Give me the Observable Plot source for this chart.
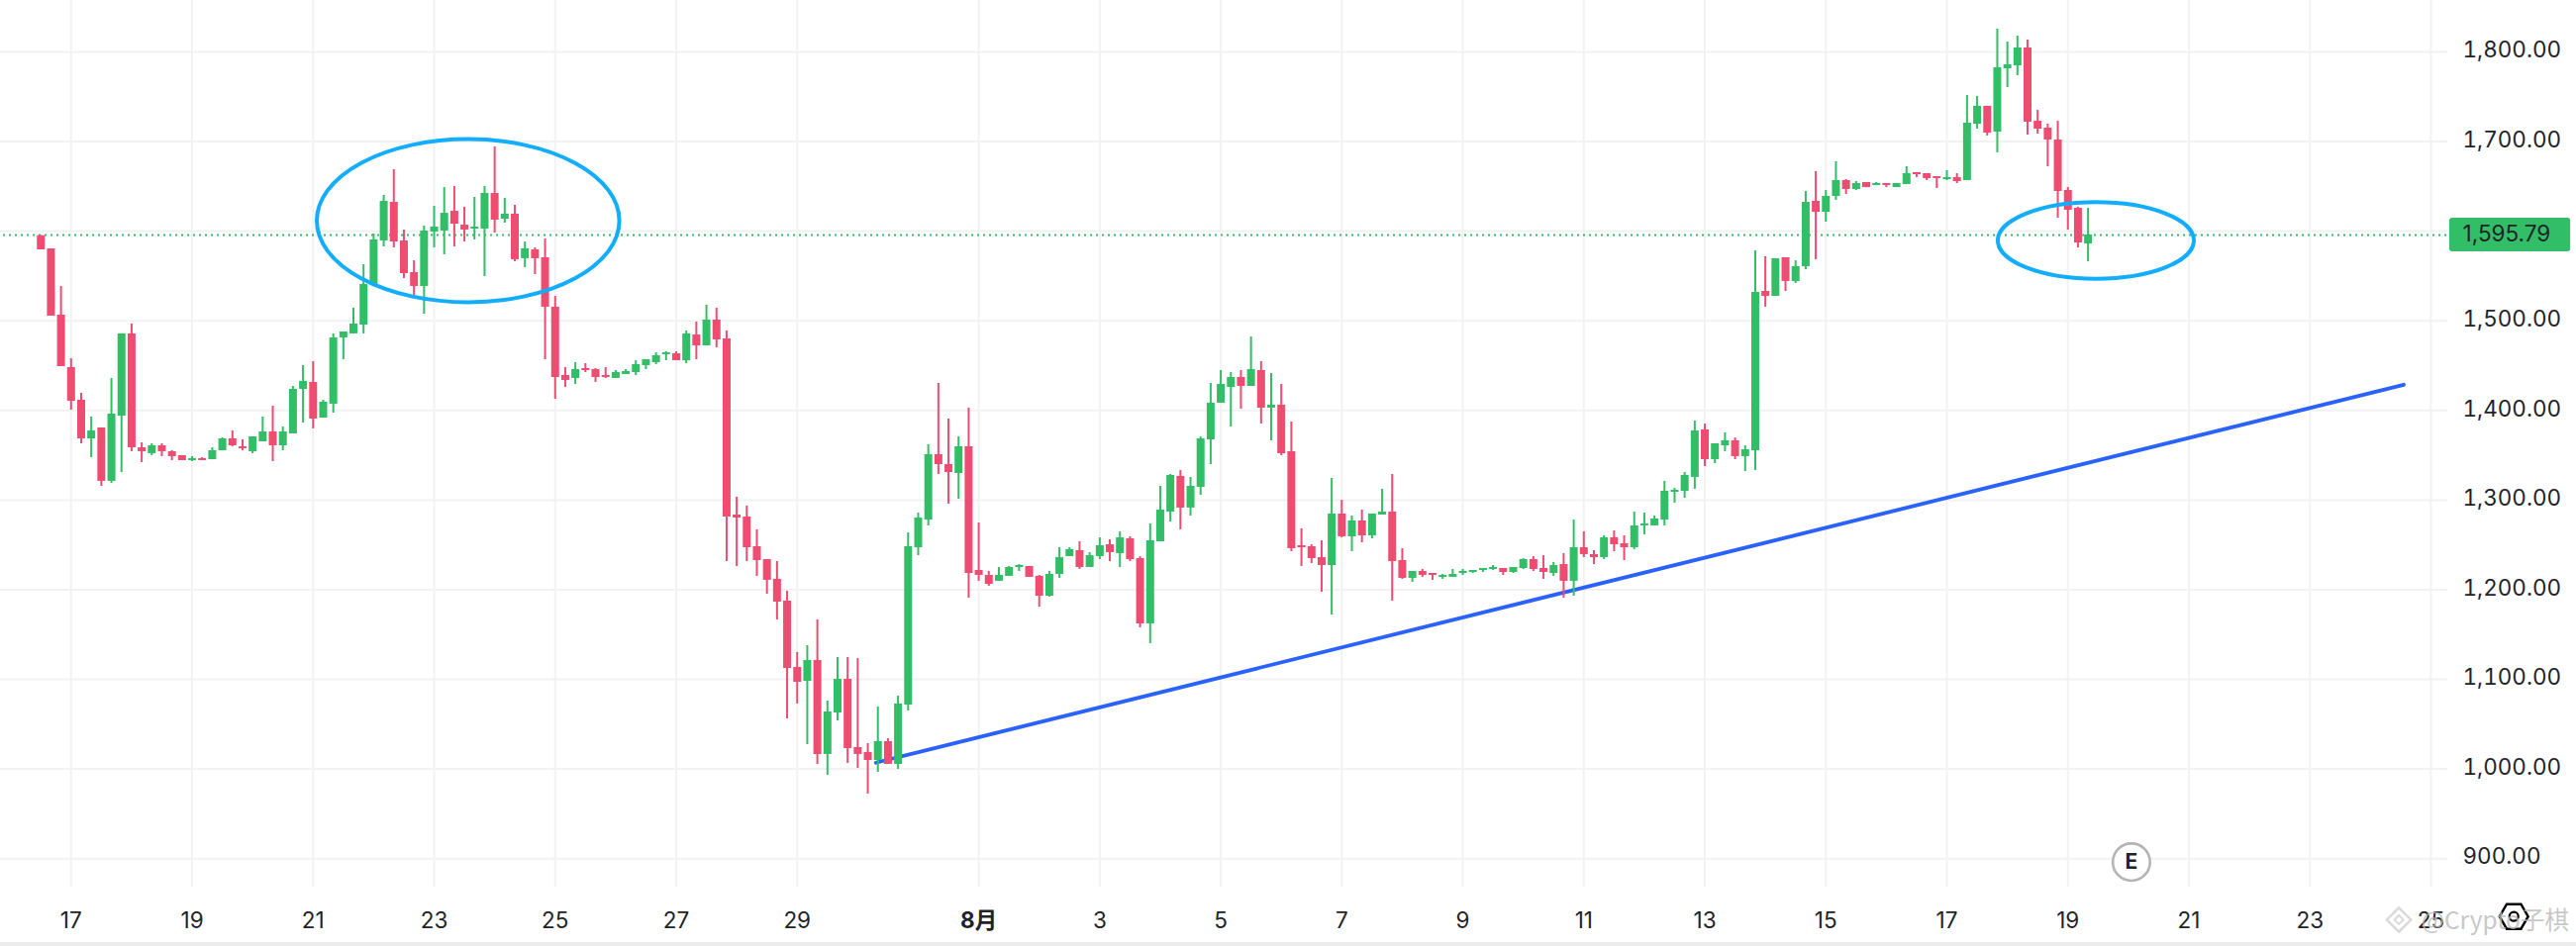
<!DOCTYPE html>
<html>
<head>
<meta charset="utf-8">
<script src="https://cdn.jsdelivr.net/npm/d3@7"></script>
<script src="https://cdn.jsdelivr.net/npm/@observablehq/plot@0.6"></script>
<style>
html,body{margin:0;padding:0;background:#fff;overflow:hidden}
svg{display:block}
#band{height:4px;background:#ececec}
</style>
</head>
<body>
<div id="chart"></div>
<div id="band"></div>
<script>
// 4-hour candles; the first one opens 12 hours into 16 July (index -3 from 17 July 00:00)
const open = [1595,1580.3,1506.3,1447.8,1411.4,1368.3,1380.5,1320.9,1393.7,1485.4,1358.4,1351.8,1360.6,1354,1349.6,1344,1346.2,1345.1,1355.1,1368.3,1359.5,1354,1365,1376.1,1360.6,1373.8,1423.5,1431.3,1391.5,1407,1481,1485.4,1495.3,1539.4,1589.1,1632.2,1589.1,1553.8,1538.3,1599.1,1600.2,1622.2,1606.8,1602.4,1602.4,1642.1,1613.4,1619,1569.3,1579.2,1570.4,1515.2,1439,1435.7,1446.7,1445.6,1439,1435.7,1440.1,1442.3,1450,1453.3,1462.2,1463.3,1455.5,1484.2,1472.1,1500.8,1479.8,1283.3,1281.1,1248,1233.6,1211.6,1187.3,1113.3,1097.8,1121,1016.2,1062.5,1100,1023.9,1018.4,1009.5,1030.5,1005.1,1071.4,1246.9,1277.8,1350.7,1339.6,1329.7,1359.5,1221.5,1216,1209.4,1214.9,1224.8,1225.9,1214.9,1192.8,1217.1,1236.9,1243.6,1224.8,1236.9,1250.2,1240.3,1256.8,1234.7,1161.9,1253.5,1286.6,1326.4,1291.1,1314.2,1367.2,1408.1,1425.7,1436.8,1426.8,1444.5,1402.6,1405.9,1354,1249.1,1248,1235.8,1227,1284.4,1259,1276.7,1260.1,1283.3,1286.6,1232.5,1212.7,1220.4,1218.2,1213.8,1213.8,1218.2,1219.3,1221.5,1222.6,1223.7,1219.3,1223.7,1233.6,1223.7,1218.2,1228.1,1209.4,1246.9,1239.2,1235.8,1257.9,1251.3,1246.9,1271.2,1271.2,1277.8,1308.7,1309.8,1325.3,1378.3,1345.1,1360.6,1366.1,1348.5,1355.1,1532.8,1527.3,1570.4,1543.9,1560.4,1633.3,1621.1,1638.8,1656.5,1646.5,1654.3,1651,1653.2,1648.7,1652.1,1665.3,1664.2,1660.9,1657.6,1659.8,1656.5,1719.4,1739.3,1710.6,1781.2,1784.5,1804.4,1722.7,1715,1701.7,1645.4,1625.6,1585.8];
const high = [1595,1580.3,1538.3,1457.8,1419.1,1392.6,1380.5,1435.7,1485.4,1496.4,1363.9,1362.8,1362.8,1355.1,1349.6,1348.5,1347.4,1358.4,1369.4,1377.2,1367.2,1370.5,1392.6,1404.8,1381.6,1426.8,1450,1454.4,1411.4,1485.4,1487.6,1514.1,1562.6,1596.9,1639.9,1668.6,1601.3,1567,1605.7,1627.8,1648.7,1649.8,1626.7,1637.7,1649.8,1694,1636.6,1628.9,1588,1581.4,1591.3,1527.3,1447.8,1453.3,1452.2,1446.7,1447.8,1444.5,1445.6,1455.5,1456.6,1464.4,1465.5,1465.5,1488.7,1498.6,1517.4,1514.1,1488.7,1303.2,1293.3,1266.8,1233.6,1231.4,1198.3,1129.9,1137.6,1166.3,1075.8,1124.3,1124.3,1123.2,1028.3,1069.1,1033.8,1081.3,1263.4,1285.5,1361.7,1430.2,1390.4,1370.5,1402.6,1274.5,1220.4,1224.8,1225.9,1228.1,1225.9,1216,1220.4,1246.9,1246.9,1253.5,1241.4,1257.9,1255.7,1264.6,1259,1236.9,1273.4,1315.3,1328.6,1333,1325.3,1370.5,1430.2,1444.5,1442.3,1444.5,1482,1454.4,1441.2,1429,1387.1,1267.9,1250.2,1254.6,1324.2,1299.9,1282.2,1288.8,1284.4,1312,1328.6,1245.8,1220.4,1222.6,1218.2,1217.1,1222.6,1222.6,1221.5,1223.7,1227,1223.7,1224.8,1234.7,1236.9,1238,1230.3,1240.3,1277.8,1264.6,1243.6,1260.1,1265.7,1260.1,1286.6,1285.5,1282.2,1320.9,1313.1,1330.8,1388.2,1384.9,1362.8,1375,1369.4,1360.6,1578.1,1571.5,1569.3,1570.4,1567,1644.3,1666.4,1645.4,1677.4,1657.6,1655.4,1654.3,1654.3,1653.2,1653.2,1671.9,1665.3,1664.2,1660.9,1667.5,1664.2,1751.4,1750.3,1739.3,1825.4,1811,1817.7,1813.2,1734.9,1719.4,1722.7,1648.7,1626.7,1625.6];
const low = [1579.2,1505.2,1448.9,1400.3,1362.8,1347.4,1315.3,1318.7,1330.8,1354,1341.8,1349.6,1348.5,1344,1344,1342.9,1344,1345.1,1355.1,1359.5,1355.1,1351.8,1365,1342.9,1355.1,1373.8,1386,1379.4,1391.5,1397,1456.6,1485.4,1485.4,1539.4,1582.5,1581.4,1547.2,1526.2,1507.4,1581.4,1573.7,1582.5,1588,1590.2,1549.4,1598,1609,1566,1559.3,1551.6,1456.6,1412.5,1425.7,1429,1442.3,1431.3,1435.7,1435.7,1440.1,1439,1445.6,1451.1,1455.5,1455.5,1452.2,1456.6,1472.1,1469.9,1231.4,1225.9,1231.4,1214.9,1195,1166.3,1055.9,1072.5,1027.2,1005.1,993,1053.7,1006.2,1000.7,972,996.3,1005.1,999.6,1064.7,1238,1271.2,1328.6,1295.5,1301,1190.6,1209.4,1203.8,1209.4,1214.9,1220.4,1213.8,1180.6,1191.7,1212.7,1236.9,1222.6,1224.8,1233.6,1231.4,1224.8,1231.4,1157.5,1139.8,1253.5,1275.6,1266.8,1282.2,1305.4,1339.6,1408.1,1381.6,1401.4,1426.8,1384.9,1366.1,1349.6,1242.5,1225.9,1229.2,1197.2,1171.8,1257.9,1242.5,1252.4,1256.8,1283.3,1187.3,1211.6,1208.3,1213.8,1210.5,1211.6,1213.8,1216,1218.2,1219.3,1221.5,1216,1218.2,1222.6,1220.4,1211.6,1214.9,1190.6,1192.8,1235.8,1228.1,1233.6,1242.5,1232.5,1244.7,1261.3,1271.2,1271.2,1296.6,1302.1,1312,1337.4,1340.7,1354,1345.1,1331.9,1333,1515.2,1527.3,1532.8,1541.7,1557.1,1568.2,1610.1,1634.4,1641,1645.4,1648.7,1651,1648.7,1648.7,1652.1,1659.8,1656.5,1647.6,1656.5,1653.2,1656.5,1713.9,1706.2,1687.4,1760.2,1773.5,1707.3,1708.4,1671.9,1614.5,1601.3,1581.4,1565.9];
const close = [1579.2,1505.2,1448.9,1410.3,1368.3,1377.2,1320.9,1395.9,1485.4,1358.4,1354,1360.6,1354,1348.5,1344,1346.2,1344,1355.1,1368.3,1360.6,1357.3,1370.5,1376.1,1360.6,1376.1,1423.5,1432.4,1390.4,1409.2,1481,1487.6,1496.4,1540.6,1590.2,1633.3,1588,1552.7,1538.3,1600.2,1604.6,1620,1607.9,1601.3,1604.6,1642.1,1612.3,1619,1568.2,1580.3,1569.3,1515.2,1436.8,1433.5,1445.6,1444.5,1436.8,1436.8,1442.3,1443.4,1451.1,1456.6,1461.1,1464.4,1455.5,1485.4,1472.1,1500.8,1478.7,1281.1,1280,1246.9,1232.5,1210.5,1186.2,1112.2,1096.7,1121,1016.2,1063.6,1100,1022.8,1016.2,1009.5,1030.5,1005.1,1072.5,1248,1280,1350.7,1339.6,1330.8,1359.5,1218.2,1216,1206,1216,1224.8,1227,1213.8,1192.8,1217.1,1235.8,1244.7,1224.8,1238,1249.1,1241.4,1257.9,1233.6,1161.9,1254.6,1288.8,1327.5,1291.1,1315.3,1368.3,1408.1,1429,1436.8,1426.8,1445.6,1402.6,1405.9,1351.8,1245.8,1246.9,1234.7,1227,1284.4,1259,1276.7,1260.1,1284.4,1286.6,1231.4,1212.7,1220.4,1216,1216,1216,1217.1,1220.4,1221.5,1223.7,1224.8,1219.3,1224.8,1233.6,1222.6,1219.3,1227,1209.4,1246.9,1239.2,1235.8,1257.9,1250.2,1246.9,1271.2,1273.4,1278.9,1309.8,1310.9,1327.5,1377.2,1345.1,1362.8,1366.1,1348.5,1356.2,1531.7,1527.3,1569.3,1543.9,1560.4,1632.2,1621.1,1638.8,1656.5,1646.5,1653.2,1648.7,1653.2,1651,1653.2,1664.2,1663.1,1658.7,1658.7,1659.8,1655.4,1720.5,1739.3,1709.5,1782.3,1785.6,1804.4,1721.6,1713.9,1701.7,1644.3,1623.4,1586.9,1595.79];
const firstCandle = -3;
const hoursPerCandle = 4;

// axis
const xTickDays = [0,2,4,6,8,10,12,15,17,19,21,23,25,27,29,31,33,35,37,39];
const xTickLabels = ["17","19","21","23","25","27","29","8月","3","5","7","9","11","13","15","17","19","21","23","25"];
const yGrid = [900,1000,1100,1200,1300,1400,1500,1600,1700,1800];
const yLabels = [900,1000,1100,1200,1300,1400,1500,1700,1800];
const lastPrice = 1595.79;

// annotations (day offsets from 17 July, prices)
const trendDays = [13.3, 38.55];
const trendPrices = [1007, 1428.7];
const ellipseCx = [6.569, 33.47];
const ellipseCy = [1611.2, 1589.1];
const ellipseRx = [2.5, 1.62];
const ellipseRy = [91, 42.7];

const t0 = Date.UTC(2025, 6, 17);
const day = d => new Date(t0 + d * 864e5);

const candles = open.map((o, k) => ({
  date: new Date(t0 + (k + firstCandle) * hoursPerCandle * 36e5),
  open: o, high: high[k], low: low[k], close: close[k],
  color: close[k] >= o ? "#32BE66" : "#EE4C71"
}));
const ticks = xTickDays.map((d, k) => ({date: day(d), label: xTickLabels[k]}));

const ellipses = (index, {x, y}) => {
  const g = d3.create("svg:g");
  ellipseCx.forEach((c, k) => {
    const cx = x(day(c)), cy = y(ellipseCy[k]);
    g.append("ellipse")
      .attr("cx", cx).attr("cy", cy)
      .attr("rx", x(day(c + ellipseRx[k])) - cx)
      .attr("ry", cy - y(ellipseCy[k] + ellipseRy[k]))
      .attr("fill", "none").attr("stroke", "#12ADFD").attr("stroke-width", 4);
  });
  return g.node();
};

const font = "Inter, 'Noto Sans CJK SC', sans-serif";
const axisFont = 22.5;

const plot = Plot.plot({
  width: 2602, height: 952,
  marginTop: 0, marginLeft: 0, marginRight: 130, marginBottom: 56,
  style: {fontFamily: font, background: "#fff", overflow: "visible"},
  x: {type: "utc", domain: [day(-71.3/61.12), day((2472-71.3)/61.12)], axis: null},
  y: {type: "linear", domain: [868.2, 1857.4], axis: null},
  marks: [
    Plot.ruleX(ticks, {x: "date", stroke: "#f2f2f3", strokeWidth: 2}),
    Plot.ruleY(yGrid, {stroke: "#f2f2f3", strokeWidth: 2}),
    Plot.ruleY([lastPrice], {stroke: "#32BE66", strokeWidth: 2, strokeDasharray: "2,4", strokeDashoffset: -3}),
    Plot.line(trendDays.map((d, k) => ({d: day(d), p: trendPrices[k]})), {x: "d", y: "p", stroke: "#2962FF", strokeWidth: 3.8, strokeLinecap: "round"}),
    Plot.ruleX(candles, {x: "date", y1: "low", y2: "high", stroke: "color", strokeWidth: 2}),
    Plot.ruleX(candles, {x: "date", y1: "open", y2: "close", stroke: "color", strokeWidth: 8}),
    ellipses,
    Plot.dot([0], {x: () => day(34.05), y: () => 896.2, r: 18.8, stroke: "#b4b4b4", strokeWidth: 2.6, fill: "#fff"}),
    Plot.text(["E"], {x: () => day(34.05), y: () => 896.2, text: d => d, fontSize: 21, fontWeight: 700, fill: "#1e2329", lineAnchor: "middle"}),
    Plot.axisY({anchor: "right", ticks: yLabels, tickSize: 0, tickPadding: 15, label: null,
      tickFormat: d3.format(",.2f"), fontSize: axisFont, fill: "#1e2329", dy: -1.5}),
    Plot.text(ticks.filter(t => t.label !== "8月"), {x: "date", y: () => 868.2, text: "label", dy: 34, fontSize: axisFont, fill: "#1e2329", lineAnchor: "middle"}),
    Plot.text(ticks.filter(t => t.label === "8月"), {x: "date", y: () => 868.2, text: "label", dy: 34, fontSize: axisFont, fontWeight: 700, fill: "#1e2329", lineAnchor: "middle"}),
    Plot.rect([0], {x1: () => day(39.31), x2: () => day(41.31), y1: () => 1577, y2: () => 1614.5, fill: "#32BE66", rx: 3}),
    Plot.text([lastPrice], {x: () => day(39.525), y: d => d, text: d3.format(",.2f"), textAnchor: "start", dy: -1, fontSize: axisFont, fill: "#1e2329", lineAnchor: "middle"}),
    // settings icon
    Plot.dot([0], {x: () => day(40.37), y: () => 835.4, symbol: "hexagon", rotate: 90, r: 12.5, stroke: "#000", strokeWidth: 2.4, fill: "none"}),
    Plot.dot([0], {x: () => day(40.37), y: () => 835.4, r: 4.5, stroke: "#000", strokeWidth: 2.2, fill: "none"}),
    // watermark
    Plot.dot([0], {x: () => day(38.47), y: () => 831.8, symbol: "diamond2", r: 11, stroke: "#d4d4d4", strokeWidth: 2.5, fill: "none", opacity: .85}),
    Plot.dot([0], {x: () => day(38.47), y: () => 831.8, symbol: "diamond2", r: 4, stroke: "#d4d4d4", strokeWidth: 2, fill: "none", opacity: .85}),
    Plot.text(["@Crypto子棋"], {x: () => day(38.84), y: () => 829.6, text: d => d, textAnchor: "start", fontSize: 24.5, fill: "#b9b9b9", fillOpacity: .8, lineAnchor: "middle", fontFamily: "'Noto Sans CJK SC', sans-serif"})
  ]
});
document.getElementById("chart").append(plot);
</script>
</body>
</html>
